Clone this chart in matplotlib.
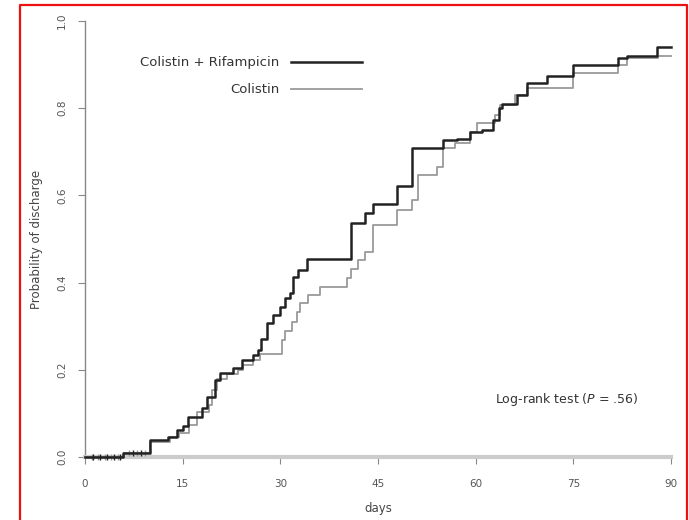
import numpy as np
import matplotlib
matplotlib.use('Agg')
import matplotlib.pyplot as plt
from matplotlib.lines import Line2D

# Cumulative discharge curves (jump times in days, level after jump)
combo_days = [0, 5.8, 10, 12.7, 14.1, 15, 15.8, 18, 18.7, 20, 20.7, 22.8, 24.1, 25.8, 26.6,
              27.1, 27.9, 28.9, 30, 30.7, 31.5, 32, 32.7, 34.1, 40.9, 43, 44.2, 47.9, 50.2,
              55, 57.1, 59.1, 61, 62.7, 63.6, 64, 66.3, 67.9, 71, 75, 81.9, 83.2, 87.8]
combo_prob = [0, 0.009, 0.039, 0.046, 0.062, 0.07, 0.092, 0.112, 0.138, 0.177, 0.193, 0.204,
              0.222, 0.234, 0.245, 0.27, 0.307, 0.326, 0.344, 0.365, 0.376, 0.413, 0.429,
              0.454, 0.537, 0.56, 0.58, 0.622, 0.709, 0.727, 0.73, 0.745, 0.75, 0.773, 0.8,
              0.81, 0.83, 0.857, 0.874, 0.9, 0.915, 0.92, 0.94]

colistin_days = [0, 6, 10, 13, 14.5, 16, 17.2, 19, 19.5, 20.2, 21.8, 23.5, 24.3, 25.8, 26.9,
                 30.2, 30.7, 31.8, 32.5, 33, 34.2, 36.1, 40.2, 40.9, 42, 43, 44.2, 47.9, 50.2,
                 51.2, 54, 55, 56.8, 59.1, 60.2, 63, 63.7, 66, 67.9, 75, 81.9, 83.2, 88]
colistin_prob = [0, 0.009, 0.035, 0.045, 0.055, 0.073, 0.103, 0.119, 0.154, 0.18, 0.19, 0.2,
                 0.211, 0.222, 0.237, 0.268, 0.29, 0.31, 0.333, 0.353, 0.372, 0.39, 0.41,
                 0.431, 0.452, 0.47, 0.532, 0.567, 0.59, 0.647, 0.665, 0.709, 0.72, 0.745,
                 0.766, 0.784, 0.807, 0.83, 0.846, 0.88, 0.9, 0.915, 0.92]

# censoring marks (days)
combo_censor = [1.2, 2.3, 3.4, 4.4, 5.3, 7.3, 8.6]
colistin_censor = [1.0, 2.0, 3.0, 4.0, 5.0, 6.8, 8.0, 9.2]

end_day = 90
x_ticks = [0, 15, 30, 45, 60, 75, 90]
y_ticks = [0.0, 0.2, 0.4, 0.6, 0.8, 1.0]

label_combo = 'Colistin + Rifampicin'
label_col = 'Colistin'
combo_color = '#222222'
col_color = '#9a9a9a'


def level_at(days, prob, t):
    idx = np.searchsorted(days, t, side='right') - 1
    return np.array(prob)[idx]


fig = plt.figure(figsize=(6.89, 5.2), dpi=100)
ax = fig.add_axes([85 / 689, 1 - 457 / 520, (671 - 85) / 689, (457 - 21) / 520])

for days, prob, censor, color, lw in [(colistin_days, colistin_prob, colistin_censor, col_color, 1.3),
                                       (combo_days, combo_prob, combo_censor, combo_color, 1.8)]:
    t = list(days) + [end_day]
    p = list(prob) + [prob[-1]]
    ax.step(t, p, where='post', color=color, lw=lw, clip_on=False, zorder=3)
    ax.plot(censor, level_at(days, prob, censor), ls='none', marker='|', ms=5,
            mew=1, color=color, clip_on=False, zorder=3)

ax.set_xlim(0, 90)
ax.set_ylim(0, 1)

for s in ['top', 'right']:
    ax.spines[s].set_visible(False)
ax.spines['left'].set_color('#888888')
ax.spines['left'].set_linewidth(1.0)
ax.spines['bottom'].set_color('#cccccc')
ax.spines['bottom'].set_linewidth(3)

ax.set_xticks(x_ticks)
ax.set_xticklabels([str(v) for v in x_ticks])
ax.set_yticks(y_ticks)
ax.set_yticklabels(['%.1f' % v for v in y_ticks], rotation=90, va='center')
ax.tick_params(axis='both', colors='#888888', labelcolor='#555555', labelsize=7.5,
               length=5, direction='out')
ax.tick_params(axis='x', pad=11)
ax.tick_params(axis='y', pad=8)

ax.set_xlabel('days', fontsize=8.5, color='#444444', labelpad=9)
ax.set_ylabel('Probability of discharge', fontsize=8.5, color='#444444', labelpad=10)

# legend drawn as text + sample lines (R style, text to the left)
ax.text(29.9, 0.905, label_combo, ha='right', va='center', fontsize=9.5, color='#333333')
ax.text(29.9, 0.843, label_col, ha='right', va='center', fontsize=9.5, color='#333333')
ax.plot([31.6, 42.5], [0.905, 0.905], color=combo_color, lw=1.8)
ax.plot([31.6, 42.5], [0.843, 0.843], color=col_color, lw=1.3)

ax.text(74, 0.133, 'Log-rank test ($P$ = .56)', ha='center', va='center',
        fontsize=9, color='#333333')

# red frame around the figure (bottom edge runs off the image)
fx0, fx1, fy1 = 20 / 689, 687 / 689, 1 - 5 / 520
frame = Line2D([fx0, fx0, fx1, fx1], [-0.1, fy1, fy1, -0.1], transform=fig.transFigure,
               color='#ee1111', lw=1.6)
fig.add_artist(frame)

fig.savefig('out.png', dpi=100)
